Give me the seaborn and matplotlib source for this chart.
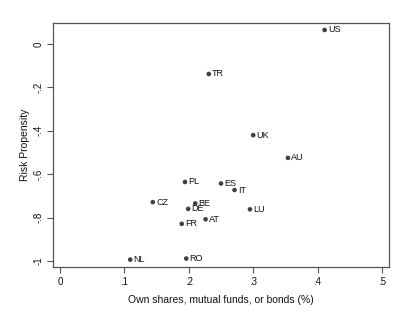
import matplotlib
matplotlib.use("Agg")
import matplotlib.pyplot as plt
import seaborn as sns
import pandas as pd
from matplotlib.ticker import FuncFormatter

countries = ["US", "TR", "UK", "AU", "PL", "ES", "IT", "CZ", "BE", "DE", "LU", "AT", "FR", "NL", "RO"]
shares = [0.411, 0.231, 0.300, 0.354, 0.194, 0.250, 0.271, 0.144, 0.210, 0.199, 0.295, 0.226, 0.189, 0.109, 0.196]
risk = [0.065, -0.138, -0.420, -0.525, -0.636, -0.643, -0.673, -0.729, -0.735, -0.760, -0.762, -0.808, -0.829, -0.994, -0.989]

df = pd.DataFrame({"country": countries, "shares": shares, "risk": risk})

sns.set_style("white")
plt.rcParams["font.family"] = ["Liberation Sans", "DejaVu Sans"]

fig = plt.figure(figsize=(4.12, 3.13), dpi=100)
ax = fig.add_axes([53/412, 1-267/313, (389-53)/412, (267-23)/313])

sns.scatterplot(data=df, x="shares", y="risk", ax=ax, color="#404040",
                s=11, edgecolor="none", linewidth=0, legend=False)

for c, xv, yv in zip(countries, shares, risk):
    ax.annotate(c, (xv, yv), xytext=(2.5, 0), textcoords="offset points",
                ha="left", va="center", fontsize=6.5, color="#111111")

ax.set_xlim(-0.011, 0.511)
ax.set_ylim(-1.028, 0.097)
ax.set_xticks([0, 0.1, 0.2, 0.3, 0.4, 0.5])
ax.set_yticks([0, -0.2, -0.4, -0.6, -0.8, -1.0])

def fmt(v, pos):
    s = f"{v:.1f}".rstrip("0").rstrip(".")
    if s in ("-0", ""):
        s = "0"
    s = s.replace("0.", ".")
    return s

ax.xaxis.set_major_formatter(FuncFormatter(fmt))
ax.yaxis.set_major_formatter(FuncFormatter(fmt))

for sp in ax.spines.values():
    sp.set_visible(True)
    sp.set_color("#555555")
    sp.set_linewidth(0.9)

ax.tick_params(axis="both", which="major", direction="out", length=4, width=0.8,
               color="#555555", labelsize=7, labelcolor="#111111",
               bottom=True, left=True, top=False, right=False, pad=3)
for lbl in ax.get_yticklabels():
    lbl.set_rotation(90)
    lbl.set_va("center")

ax.set_xlabel("Own shares, mutual funds, or bonds (%)", fontsize=7.5, color="#111111", labelpad=6)
ax.set_ylabel("Risk Propensity", fontsize=7.5, color="#111111", labelpad=2)

fig.savefig("out.png", dpi=100, facecolor="white")
